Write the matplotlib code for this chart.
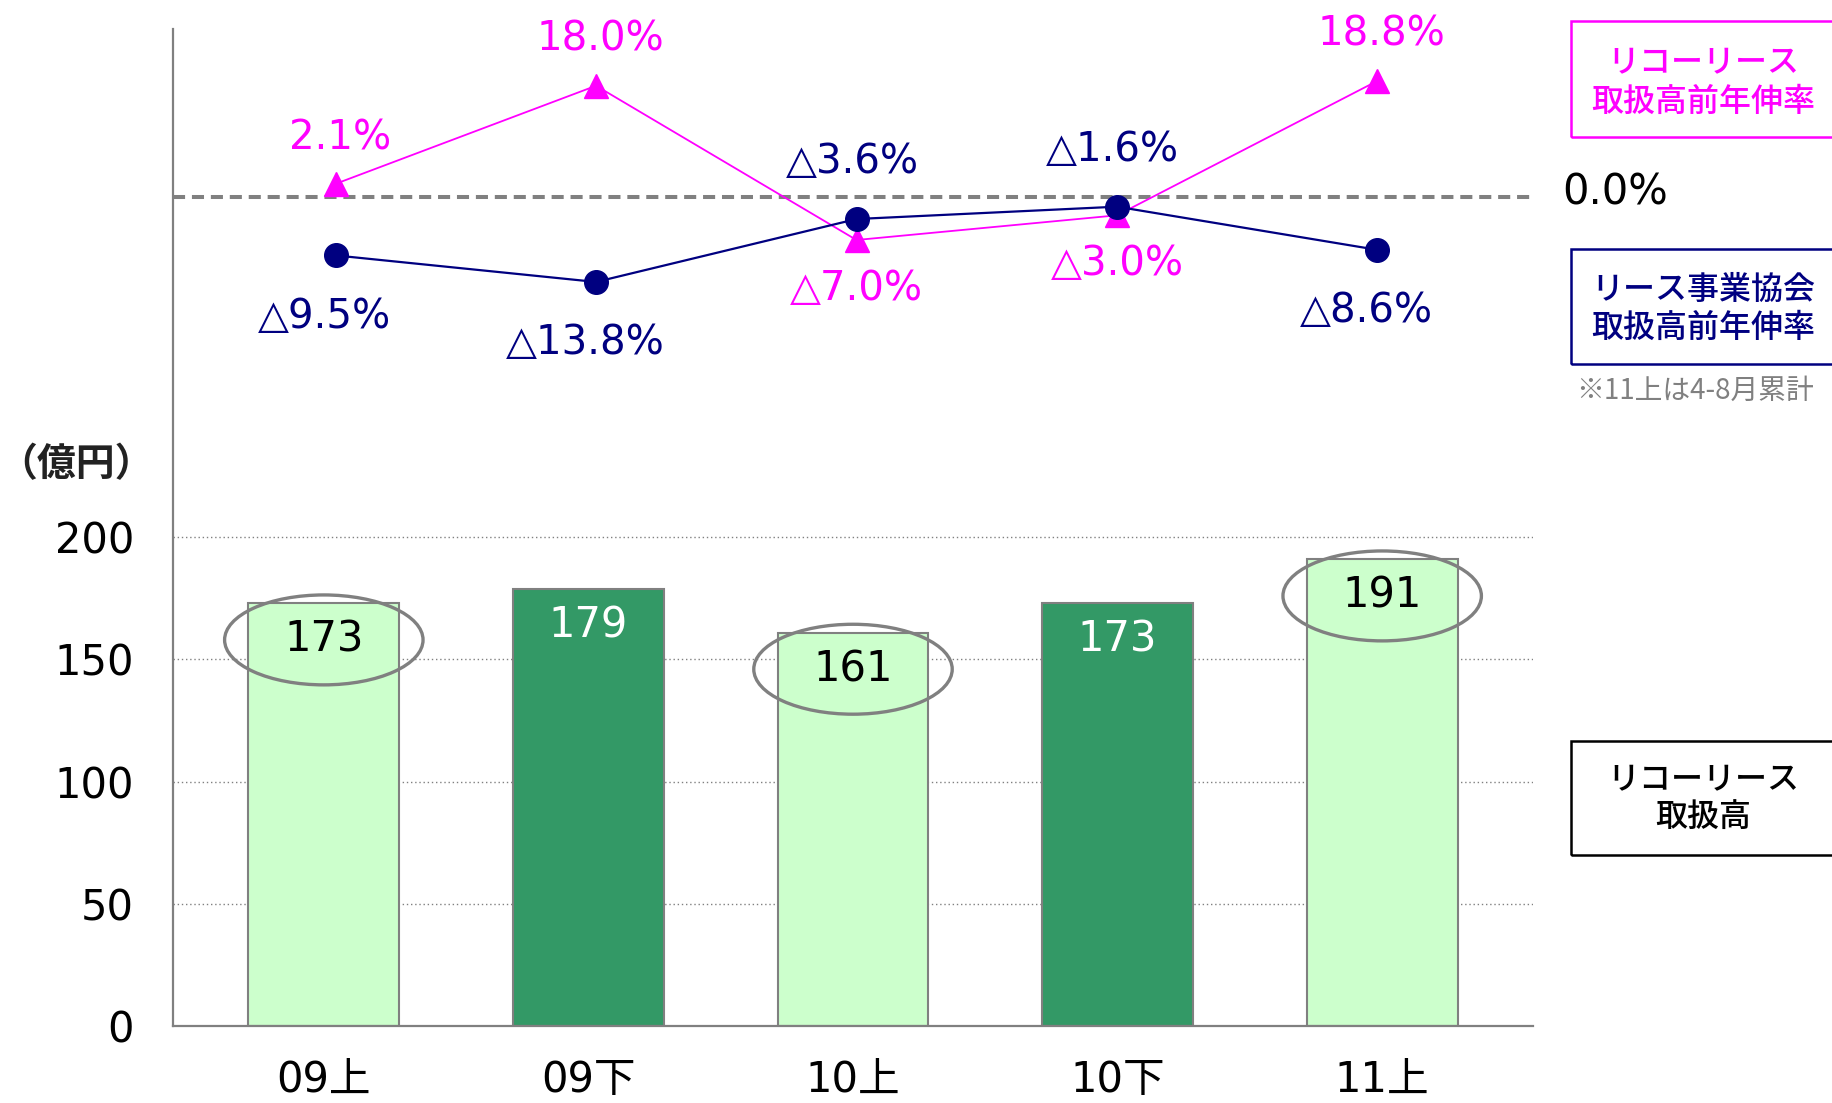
import matplotlib
matplotlib.use('Agg')
import matplotlib.pyplot as plt
from matplotlib.patches import Ellipse, Rectangle

# ---- data ----
categories = ['09上', '09下', '10上', '10下', '11上']
amounts = [173, 179, 161, 173, 191]
bar_shade = ['light', 'dark', 'light', 'dark', 'light']
ricoh_growth = [2.1, 18.0, -7.0, -3.0, 18.8]
assoc_growth = [-9.5, -13.8, -3.6, -1.6, -8.6]
ytick_values = [0, 50, 100, 150, 200]

plt.rcParams['font.family'] = ['DejaVu Sans', 'Noto Sans CJK JP']

W, H = 1833, 1103
fig = plt.figure(figsize=(W / 100, H / 100), dpi=100)


def fx(px):
    return px / W


def fy(py):
    return 1 - py / H


GRAY = '#808080'
PINK = '#FF00FF'
NAVY = '#000080'
LIGHT = '#CCFFCC'
DARK = '#339966'
CJK = ['Noto Sans CJK JP', 'DejaVu Sans']

ax_l, ax_r, ax_t, ax_b = 173, 1533, 29, 1026
pos = [fx(ax_l), fy(ax_b), (ax_r - ax_l) / W, (ax_b - ax_t) / H]

# ---- bar axes ----
ax = fig.add_axes(pos)
xs = list(range(len(categories)))
colors = [LIGHT if s == 'light' else DARK for s in bar_shade]
ax.bar(xs, amounts, width=0.57, color=colors, edgecolor=GRAY, linewidth=1.5, zorder=2)
ax.set_xlim(-0.57, 4.57)
ax.set_ylim(0, 408)
ax.set_yticks(ytick_values)
ax.set_xticks(xs)
ax.set_xticklabels(categories)
ax.tick_params(axis='both', length=0, labelsize=30, colors='black')
ax.tick_params(axis='y', pad=28)
ax.tick_params(axis='x', pad=24)
for sp in ['top', 'right']:
    ax.spines[sp].set_visible(False)
for sp in ['left', 'bottom']:
    ax.spines[sp].set_color(GRAY)
    ax.spines[sp].set_linewidth(1.6)
ax.yaxis.grid(True, color=GRAY, linestyle=(0, (1, 2)), linewidth=1.0, zorder=0)
ax.set_axisbelow(True)

for x, v, s in zip(xs, amounts, bar_shade):
    ty = v - 15
    ax.text(x, ty, str(v), ha='center', va='center', fontsize=30,
            color='black' if s == 'light' else 'white', zorder=4)
    if s == 'light':
        ax.add_patch(Ellipse((x, ty), 0.75, 36.8, fill=False, edgecolor=GRAY,
                             linewidth=2.4, zorder=5))

# ---- line axes ----
ax2 = fig.add_axes(pos, facecolor='none')
ax2.set_xlim(-0.624, 4.597)
ax2.set_ylim(-134.4, 27.2)
ax2.axis('off')
ax2.axhline(0, color=GRAY, linestyle='--', linewidth=2.9, dashes=(3, 1.7), zorder=1)
ax2.plot(xs, ricoh_growth, color=PINK, marker='^', markersize=17, linewidth=1.3, zorder=3)
ax2.plot(xs, assoc_growth, color=NAVY, marker='o', markersize=17, linewidth=1.6, zorder=4)


def fmt(v):
    return f'{v:.1f}%' if v >= 0 else f'△{abs(v):.1f}%'


for x, p, n in zip(xs, ricoh_growth, assoc_growth):
    if p > n:
        ax2.annotate(fmt(p), (x, p), xytext=(3, 33), textcoords='offset points',
                     ha='center', va='center', fontsize=29, color=PINK)
        ax2.annotate(fmt(n), (x, n), xytext=(-8, -44), textcoords='offset points',
                     ha='center', va='center', fontsize=29, color=NAVY)
    else:
        ax2.annotate(fmt(p), (x, p), xytext=(0, -35), textcoords='offset points',
                     ha='center', va='center', fontsize=29, color=PINK)
        ax2.annotate(fmt(n), (x, n), xytext=(-3, 41), textcoords='offset points',
                     ha='center', va='center', fontsize=29, color=NAVY)

fig.text(fx(1562), fy(193), '0.0%', ha='left', va='center', fontsize=30, color='black')
fig.text(fx(76), fy(465), '（億円）', ha='center', va='center', fontsize=28,
         family=CJK, weight='bold', color='#222222')

# ---- legend boxes ----
boxes = [
    (21, 137, PINK, ['リコーリース', '取扱高前年伸率'], (63, 102)),
    (249, 364, NAVY, ['リース事業協会', '取扱高前年伸率'], (290, 328)),
    (741, 855, 'black', ['リコーリース', '取扱高'], (780, 818)),
]
for top, bot, col, lines, ys in boxes:
    fig.patches.append(Rectangle((fx(1571), fy(bot)), fx(400), (bot - top) / H,
                                 transform=fig.transFigure, fill=False,
                                 edgecolor=col, linewidth=1.8))
    for line, yy in zip(lines, ys):
        fig.text(fx(1703), fy(yy), line, ha='center', va='center', fontsize=23,
                 family=CJK, weight='medium', color=col)

fig.text(fx(1695), fy(391), '※11上は4-8月累計', ha='center', va='center', fontsize=20,
         family=CJK, color=GRAY)

fig.savefig('out.png', dpi=100)
